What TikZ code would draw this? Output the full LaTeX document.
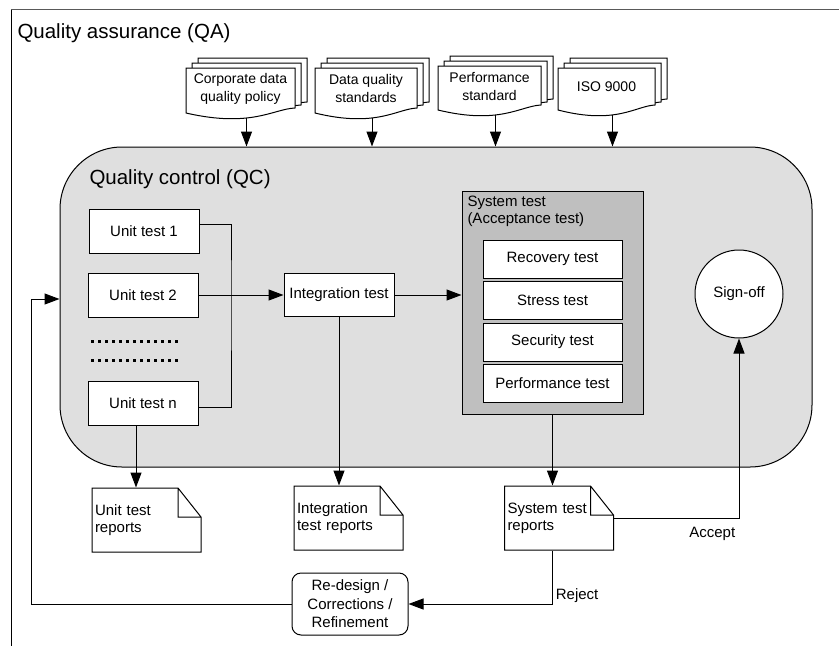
\documentclass[tikz,border=0pt]{standalone}
\usepackage{fontspec}
\setmainfont{Liberation Sans}
\usetikzlibrary{arrows.meta}

\tikzset{
  title/.style={font=\fontsize{20.5}{24}\selectfont, inner sep=3pt},
  testbox/.style={draw, fill=white, minimum width=110pt, minimum height=44pt, inner sep=0pt},
  subbox/.style={draw, fill=white, minimum width=139pt, minimum height=38pt, inner sep=0pt},
  doctext/.style={align=center, font=\fontsize{14}{18}\selectfont, inner sep=0pt},
  report/.style={minimum width=109pt, minimum height=64pt, text width=103pt, inner sep=3pt, align=left},
  dots/.style={line width=3pt, dash pattern=on 3pt off 4pt},
}

% one page of a document stack: left, top, right, base of the wavy edge
\newcommand\docpage[4]{%
  \draw[fill=white] ({#1},{#2}) -- ({#3},{#2}) -- ({#3},{(#4)-5})
    .. controls ({(#1)+0.8*((#3)-(#1))},{(#4)-4}) and ({(#1)+0.6*((#3)-(#1))},{(#4)+15}) .. ({#1},{#4}) -- cycle;}
% three pages stacked, with a label and an exit point under the wave
\newcommand\docstack[6]{%
  \docpage{#2+12}{#3-10}{#4+12}{#5-6}
  \docpage{#2+6}{#3-5}{#4+6}{#5-3}
  \docpage{#2}{#3}{#4}{#5}
  \node[doctext] (#1) at ({((#2)+(#4))/2},{((#3)+(#5))/2-2}) {#6};
  \coordinate (#1-out) at ({((#2)+(#4))/2+6},{(#5)+5});}
% report sheet with a folded corner, given by its centre
\newcommand\reportdoc[4]{%
  \draw[fill=white] ({#2-54.5},{#3-32}) -- ({#2+31.5},{#3-32}) -- ({#2+54.5},{#3-3})
    -- ({#2+54.5},{#3+32}) -- ({#2-54.5},{#3+32}) -- cycle
    ({#2+31.5},{#3-32}) |- ({#2+54.5},{#3-3});
  \node[report] (#1) at (#2,#3) {#4};}

\begin{document}
\begin{tikzpicture}[x=1pt, y=-1pt, line width=1pt,
    >={Triangle[length=15pt,width=11pt]},
    font=\fontsize{15}{17}\selectfont]
  \useasboundingbox (0,0) rectangle (839,646);

  % quality assurance frame
  \draw[gray!70!black, line width=1.5pt] (11,9.5) -- (839,9.5);
  \draw (11,9.5) -- (11,646);
  \node[title, anchor=west] (qa) at (14,33) {Quality assurance (QA)};

  % quality control area
  \node[draw, fill=gray!25, rounded corners=62pt, minimum width=752pt, minimum height=320pt] (qc) at (436,307) {};
  \node[title, anchor=west] (qct) at (86,179) {Quality control (QC)};

  % standards
  \docstack{pol}{186}{68}{295}{113}{Corporate data\\quality policy}
  \docstack{dqs}{315}{68}{417}{113}{Data quality\\standards}
  \docstack{pfs}{438}{66}{541}{110}{Performance\\standard}
  \docstack{iso}{558}{68}{655}{110}{ISO 9000}
  \foreach \d in {pol,dqs,pfs,iso}
    \draw[->] (\d-out) -- (\d-out |- qc.north);

  % unit tests
  \node[testbox] (u1) at (144,231) {Unit test 1};
  \node[testbox] (u2) at (143,295) {Unit test 2};
  \node[testbox] (un) at (143,403) {Unit test n};
  \draw[dots] (91,341) -- (181,341);
  \draw[dots] (91,360) -- (181,360);

  \node[testbox, minimum height=43pt] (it) at (339,295) {Integration test};
  \coordinate (join) at (231,295);
  \draw ([yshift=7pt]u1.east) -| (join) |- ([yshift=-4pt]un.east);
  \draw[->] (u2.east) -- (it.west);

  % system test
  \node[draw, fill=gray!50, minimum width=181pt, minimum height=223pt] (st) at (552.5,302.5) {};
  \node[anchor=north west, align=left, inner sep=2pt] (stt) at (465,194) {System test\\(Acceptance test)};
  \node[subbox] (rec) at (552.5,259) {Recovery test};
  \node[subbox] (stress) at (552.5,300.5) {Stress test};
  \node[subbox] (sec) at (552.5,342) {Security test};
  \node[subbox] (perf) at (552.5,383) {Performance test};
  \draw[->] (it.east) -- (it.east -| st.west);

  \node[draw, circle, fill=white, minimum size=88pt, inner sep=0pt] (so) at (739,294) {Sign-off};

  % reports
  \reportdoc{utrep}{146.5}{520}{Unit test\\reports}
  \reportdoc{itrep}{348.5}{518}{Integration\\test reports}
  \reportdoc{strep}{559}{518}{System test\\reports}
  \draw[->] ([xshift=-7pt]un.south) -- ([xshift=-7pt]un.south |- utrep.north);
  \draw[->] (it.south) -- (it.south |- itrep.north);
  \draw[->] (st.south) -- (st.south |- strep.north);

  \node[draw, fill=white, rounded corners=9pt, minimum width=116pt, minimum height=62pt,
    align=center, font=\fontsize{15}{18.5}\selectfont] (rd) at (350,604) {Re-design /\\Corrections /\\Refinement};

  \draw[->] (strep.east) -| node[pos=0.5, below left, yshift=-5pt] {Accept} (so.south);
  \draw[->] ([xshift=-7pt]strep.south) |- node[pos=0.5, above right, yshift=-2pt] {Reject} (rd.east);
  \coordinate (back) at (31,299);
  \draw[->] (rd.west) -| (back) -- (back -| qc.west);
\end{tikzpicture}
\end{document}
